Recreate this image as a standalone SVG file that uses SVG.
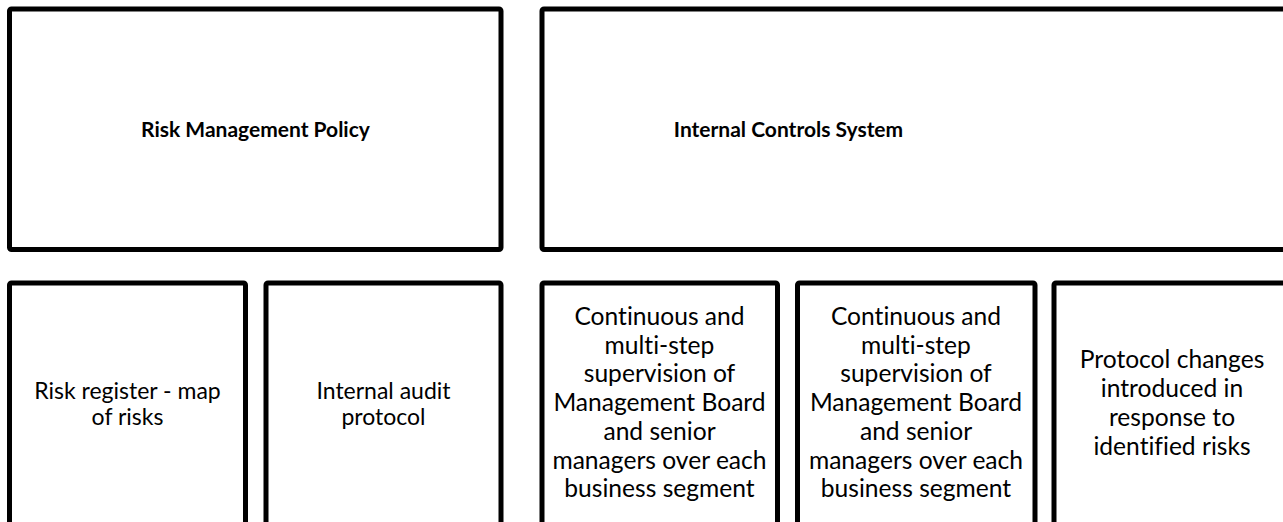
<svg xmlns="http://www.w3.org/2000/svg" width="1283" height="522" viewBox="0 0 1283 522">
  <style>
    .box { fill: #ffffff; stroke: #000000; stroke-width: 5; }
    text { font-family: Lato, "Liberation Sans", sans-serif; fill: #000; text-anchor: middle; font-variant-ligatures: none; }
    .title { font-weight: bold; font-size: 21px; }
    .small { font-size: 23px; }
    .item { font-size: 24.6px; }
  </style>
  <rect width="1283" height="522" fill="#ffffff"/>

  <!-- upper row -->
  <g id="risk-management-policy">
    <rect class="box" x="9.5" y="9" width="491.5" height="240.5" rx="2"/>
    <text class="title" x="255.5" y="137">Risk Management Policy</text>
  </g>
  <g id="internal-controls-system">
    <rect class="box" x="542" y="9" width="760" height="240.5" rx="2"/>
    <text class="title" x="788.5" y="137">Internal Controls System</text>
  </g>

  <!-- lower row -->
  <g id="risk-register">
    <rect class="box" x="9.5" y="283" width="236" height="260" rx="2"/>
    <text class="small" x="127.5" y="399">Risk register - map</text>
    <text class="small" x="127.5" y="425">of risks</text>
  </g>
  <g id="internal-audit">
    <rect class="box" x="266" y="283" width="235" height="260" rx="2"/>
    <text class="small" x="383.5" y="399">Internal audit</text>
    <text class="small" x="383.5" y="425">protocol</text>
  </g>
  <g id="supervision-a">
    <rect class="box" x="542" y="283" width="235.5" height="260" rx="2"/>
    <text class="item" x="659.5" y="325">Continuous and</text>
    <text class="item" x="659.5" y="353.7">multi-step</text>
    <text class="item" x="659.5" y="382.4">supervision of</text>
    <text class="item" x="659.5" y="411">Management Board</text>
    <text class="item" x="659.5" y="439.8">and senior</text>
    <text class="item" x="659.5" y="468.5">managers over each</text>
    <text class="item" x="659.5" y="497">business segment</text>
  </g>
  <g id="supervision-b">
    <rect class="box" x="797.5" y="283" width="237.5" height="260" rx="2"/>
    <text class="item" x="916" y="325">Continuous and</text>
    <text class="item" x="916" y="353.7">multi-step</text>
    <text class="item" x="916" y="382.4">supervision of</text>
    <text class="item" x="916" y="411">Management Board</text>
    <text class="item" x="916" y="439.8">and senior</text>
    <text class="item" x="916" y="468.5">managers over each</text>
    <text class="item" x="916" y="497">business segment</text>
  </g>
  <g id="protocol-changes">
    <rect class="box" x="1054" y="283" width="260" height="260" rx="2"/>
    <text class="item" x="1172" y="368">Protocol changes</text>
    <text class="item" x="1172" y="397">introduced in</text>
    <text class="item" x="1172" y="426">response to</text>
    <text class="item" x="1172" y="455">identified risks</text>
  </g>

  <!-- no connectors in this chart -->
  <g id="connectors"/>
</svg>
